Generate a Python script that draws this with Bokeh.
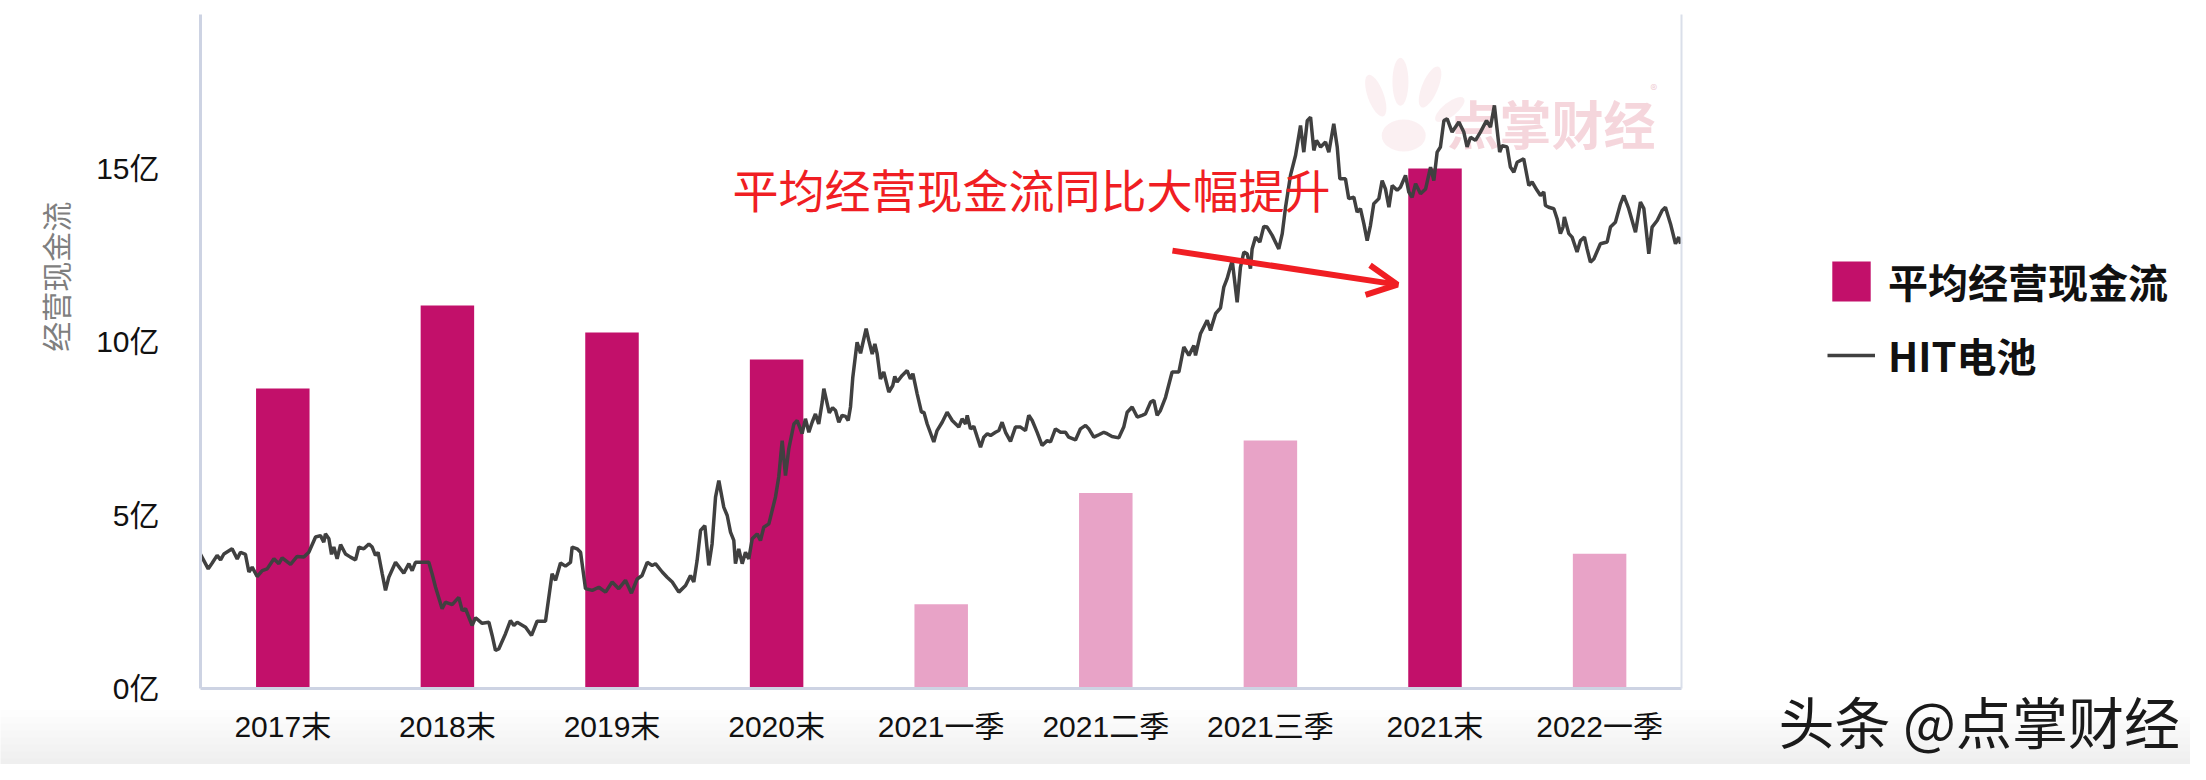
import math
from bokeh.plotting import figure
from bokeh.models import (ColumnDataSource, FixedTicker, Legend, LegendItem, Label,
                          Arrow, OpenHead, LinearAxis, BoxAnnotation)
from bokeh.embed import file_html
from bokeh.resources import INLINE

# ---------------- data ----------------
categories = ["2017末", "2018末", "2019末", "2020末", "2021一季", "2021二季", "2021三季", "2021末", "2022一季"]
cash_flow = [8.65, 11.05, 10.27, 9.49, 2.43, 5.64, 7.15, 15.0, 3.89]   # 平均经营现金流 (亿)

y_ticks = [0, 5, 10, 15]
y_tick_labels = ["0亿", "5亿", "10亿", "15亿"]

# HIT电池 index line, position along the category axis and level on the 亿 scale
hit_x = [0.000, 0.047, 0.071, 0.101, 0.122, 0.142, 0.192, 0.223, 0.243, 0.273, 0.294, 0.314, 0.344, 0.375, 0.405,
         0.446, 0.476, 0.496, 0.547, 0.587, 0.628, 0.658, 0.699, 0.729, 0.749, 0.759, 0.780, 0.796, 0.810, 0.830,
         0.851, 0.881, 0.911, 0.942, 0.962, 0.992, 1.023, 1.043, 1.063, 1.079, 1.104, 1.124, 1.144, 1.185, 1.215,
         1.235, 1.266, 1.286, 1.306, 1.347, 1.387, 1.407, 1.428, 1.468, 1.488, 1.529, 1.569, 1.590, 1.610, 1.650,
         1.671, 1.711, 1.752, 1.772, 1.792, 1.812, 1.853, 1.883, 1.904, 1.924, 1.975,
         2.011, 2.045, 2.096, 2.136, 2.157, 2.187, 2.217, 2.248, 2.258, 2.288, 2.309, 2.339, 2.380, 2.420, 2.461,
         2.501, 2.541, 2.582, 2.618, 2.653, 2.683, 2.714, 2.744, 2.764, 2.805, 2.835, 2.866, 2.906, 2.947, 2.977,
         2.997, 3.017, 3.038, 3.064, 3.088, 3.108, 3.129, 3.149, 3.179, 3.200, 3.220, 3.240, 3.250, 3.270, 3.291,
         3.311, 3.331, 3.352, 3.382, 3.402, 3.422, 3.453, 3.493, 3.513, 3.534, 3.554, 3.574, 3.605, 3.625, 3.655,
         3.675, 3.696, 3.716, 3.736, 3.756, 3.777, 3.787, 3.820, 3.840,
         3.858, 3.878, 3.898, 3.919, 3.935, 3.949, 3.963, 3.989, 4.010, 4.044, 4.060, 4.081, 4.097, 4.111, 4.131,
         4.151, 4.182, 4.206, 4.218, 4.232, 4.263, 4.293, 4.313, 4.328, 4.354, 4.380, 4.395, 4.415, 4.455, 4.475,
         4.506, 4.536, 4.567, 4.607, 4.627, 4.648, 4.658, 4.678, 4.698, 4.719, 4.739, 4.759, 4.780, 4.800, 4.830,
         4.850, 4.870, 4.891, 4.921, 4.951, 4.982, 5.012, 5.032, 5.053, 5.083, 5.113, 5.144, 5.164, 5.194, 5.225,
         5.255, 5.275, 5.316, 5.346, 5.377, 5.397, 5.427, 5.458, 5.488, 5.508, 5.538, 5.579, 5.609, 5.630, 5.660,
         5.691, 5.721, 5.741, 5.772, 5.792, 5.812, 5.832, 5.863,
         5.903, 5.944, 5.974, 6.005, 6.035, 6.045, 6.075, 6.116, 6.136, 6.167, 6.197, 6.217, 6.237, 6.268, 6.298,
         6.318, 6.339, 6.359, 6.379, 6.389, 6.410, 6.436, 6.460, 6.480, 6.511, 6.551, 6.572, 6.592, 6.622, 6.653,
         6.683, 6.703, 6.724, 6.744, 6.764, 6.780, 6.805, 6.835, 6.855, 6.885, 6.906, 6.922, 6.956, 6.976, 7.007,
         7.027, 7.047, 7.068, 7.088, 7.108, 7.128, 7.159, 7.179, 7.199, 7.220, 7.240, 7.270, 7.290, 7.321, 7.341,
         7.361, 7.382, 7.412, 7.443, 7.473,
         7.493, 7.513, 7.533, 7.554, 7.574, 7.604, 7.645, 7.675, 7.695, 7.716, 7.746, 7.776, 7.813, 7.837, 7.861,
         7.877, 7.893, 7.908, 7.938, 7.958, 7.979, 7.999, 8.039, 8.070, 8.090, 8.120, 8.141, 8.161, 8.171, 8.191,
         8.222, 8.242, 8.262, 8.278, 8.286, 8.313, 8.333, 8.363, 8.384, 8.408, 8.424, 8.444, 8.465, 8.505, 8.546,
         8.566, 8.596, 8.627, 8.647, 8.677, 8.718, 8.748, 8.769, 8.799, 8.819, 8.850, 8.880, 8.900, 8.931, 8.961,
         8.981, 8.992]
hit_v = [3.87, 3.45, 3.62, 3.84, 3.71, 3.88, 4.03, 3.74, 3.93, 3.87, 3.36, 3.50, 3.23, 3.40, 3.45,
         3.74, 3.60, 3.77, 3.58, 3.81, 3.79, 3.93, 4.37, 4.41, 4.22, 4.46, 4.32, 3.87, 4.08, 3.74,
         4.15, 3.88, 3.79, 3.71, 4.08, 4.03, 4.17, 4.08, 3.84, 3.93, 3.31, 2.83, 3.21, 3.64, 3.45,
         3.33, 3.60, 3.40, 3.64, 3.64, 3.64, 3.31, 2.92, 2.30, 2.49, 2.42, 2.63, 2.25, 2.30, 1.82,
         2.04, 1.88, 1.91, 1.53, 1.10, 1.14, 1.58, 1.96, 1.82, 1.91, 1.77,
         1.53, 1.94, 1.94, 3.31, 3.12, 3.62, 3.53, 3.64, 4.08, 4.03, 3.93, 2.88, 2.83, 2.92, 2.78,
         3.07, 2.88, 3.12, 2.75, 3.16, 3.26, 3.64, 3.55, 3.60, 3.36, 3.21, 3.07, 2.78, 2.97, 3.26,
         3.07, 3.69, 4.56, 4.70, 3.55, 4.17, 5.52, 6.00, 5.23, 4.99, 4.51, 4.27, 3.60, 4.03, 3.60,
         3.93, 3.74, 4.32, 4.46, 4.27, 4.65, 4.75, 5.52, 6.10, 7.15, 6.14, 6.91, 7.63, 7.73, 7.35,
         7.78, 7.39, 7.68, 7.92, 7.63, 8.26, 8.65, 7.95, 8.10,
         8.02, 7.68, 7.88, 7.85, 7.73, 8.12, 8.98, 9.99, 9.67, 10.38, 10.04, 9.65, 9.94, 9.65, 8.93,
         9.13, 8.55, 8.74, 9.00, 8.84, 9.03, 9.17, 8.93, 9.08, 8.50, 7.97, 7.97, 7.63, 7.11, 7.44,
         7.68, 7.97, 7.73, 7.54, 7.78, 7.63, 7.88, 7.49, 7.56, 7.25, 6.96, 7.25, 7.35, 7.30, 7.39,
         7.44, 7.68, 7.39, 7.13, 7.54, 7.54, 7.44, 7.88, 7.73, 7.39, 7.01, 7.15, 7.11, 7.49, 7.39,
         7.39, 7.25, 7.17, 7.49, 7.59, 7.49, 7.25, 7.32, 7.39, 7.35, 7.27, 7.23, 7.54, 7.97, 8.12,
         7.83, 7.88, 7.92, 8.26, 8.31, 7.88, 8.02, 8.40,
         9.13, 9.13, 9.85, 9.61, 9.89, 9.61, 10.23, 10.62, 10.33, 10.81, 10.98, 11.58, 11.82, 12.35, 11.14,
         12.15, 12.59, 12.54, 12.11, 12.68, 13.02, 12.88, 13.33, 13.31, 13.07, 12.68, 13.12, 13.88, 14.80, 15.38,
         16.24, 15.47, 16.38, 16.48, 15.52, 15.81, 15.62, 15.76, 15.47, 16.29, 15.62, 14.70, 14.70, 14.13, 14.17,
         13.74, 13.84, 13.40, 12.92, 13.36, 13.98, 14.13, 14.65, 14.41, 13.88, 14.51, 14.37, 14.46, 14.80, 14.32,
         14.17, 14.56, 14.27, 14.41, 15.04,
         14.65, 15.47, 15.62, 16.38, 16.43, 16.05, 16.34, 16.05, 15.62, 15.90, 15.81, 16.05, 16.38, 16.19, 16.82,
         16.14, 15.47, 15.66, 15.62, 15.04, 14.89, 15.18, 15.28, 14.51, 14.61, 14.37, 14.22, 14.32, 13.93, 13.88,
         13.84, 13.55, 13.12, 13.31, 13.60, 13.12, 13.02, 12.59, 12.92, 13.02, 12.68, 12.30, 12.39, 12.83, 12.88,
         13.31, 13.45, 13.98, 14.22, 13.84, 13.16, 14.03, 13.84, 12.54, 13.31, 13.50, 13.79, 13.88, 13.40, 12.83,
         13.02, 12.83]

annotation_text = "平均经营现金流同比大幅提升"

# ---------------- styles ----------------
DARK = "#C2106A"
LIGHT = "#E8A3C7"
LINE = "#404040"
RED = "#F01E23"
AXIS = "#CDD3E3"
CJK = "Noto Sans CJK SC"
TICKF = "Liberation Sans, Noto Sans CJK SC"

n = len(categories)
bar_colors = [DARK if c.endswith("末") else LIGHT for c in categories]
bar_x = [i + 0.5 for i in range(n)]
y_top = 19.44

# the frame covers the whole canvas; axes are pinned at 0 with fixed_location
p = figure(width=2190, height=764, output_backend="svg", toolbar_location=None,
           x_range=(-1.2151, 12.090), y_range=(-2.192, 19.845),
           min_border_left=0, min_border_right=0, min_border_top=0, min_border_bottom=0)
p.outline_line_color = None
p.xgrid.visible = False
p.ygrid.visible = False
p.background_fill_color = "white"
p.border_fill_color = "white"

# soft grey fade at the very bottom of the picture
for k in range(8):
    p.add_layout(BoxAnnotation(top=-0.62 - 0.2 * k, fill_color="#C8C8C8", fill_alpha=0.035,
                               line_color=None, level="underlay"))

# faint watermark logo (hand print) behind the data
logo = ColumnDataSource(dict(x=[7.31, 7.14, 7.29, 7.47, 7.59], y=[15.95, 17.1, 17.5, 17.35, 16.7],
                             w=[44, 16, 16, 16, 14], h=[32, 44, 48, 44, 36], a=[0.0, 0.35, 0.0, -0.4, -0.9]))
p.ellipse(x="x", y="y", width="w", height="h", angle="a", width_units="screen", height_units="screen",
          fill_color="#F2CDD3", fill_alpha=0.3, line_color=None, source=logo)

bar_src = ColumnDataSource(dict(x=bar_x, top=cash_flow, color=bar_colors, cat=categories))
bars = p.vbar(x="x", top="top", width=0.325, bottom=0, fill_color="color", line_color=None, source=bar_src)

line_src = ColumnDataSource(dict(x=hit_x, y=hit_v))
ln = p.line(x="x", y="y", line_color=LINE, line_width=3.5, source=line_src)

# axes
xa = p.xaxis[0]
xa.fixed_location = 0
xa.bounds = (0, n)
xa.ticker = FixedTicker(ticks=bar_x)
xa.major_label_overrides = {x: c for x, c in zip(bar_x, categories)}
xa.major_tick_line_color = None
xa.minor_tick_line_color = None
xa.axis_line_color = AXIS
xa.axis_line_width = 3
xa.major_label_text_font = TICKF
xa.major_label_text_font_size = "30px"
xa.major_label_text_color = "#111111"
xa.major_label_standoff = 15

ya = p.yaxis[0]
ya.fixed_location = 0
ya.bounds = (0, y_top)
ya.ticker = FixedTicker(ticks=y_ticks)
ya.major_label_overrides = {t: l for t, l in zip(y_ticks, y_tick_labels)}
ya.major_tick_line_color = None
ya.minor_tick_line_color = None
ya.axis_line_color = AXIS
ya.axis_line_width = 3
ya.major_label_text_font = TICKF
ya.major_label_text_font_size = "30px"
ya.major_label_text_color = "#111111"
ya.major_label_standoff = 35

ra = LinearAxis(fixed_location=n, bounds=(0, y_top), ticker=FixedTicker(ticks=[]),
                axis_line_color="#DADFEA", axis_line_width=2,
                major_tick_line_color=None, minor_tick_line_color=None)
p.add_layout(ra, "right")

# y axis title
p.add_layout(Label(x=-0.881, y=11.88, text="经营现金流", angle=math.pi / 2, text_align="center",
                   text_baseline="middle", text_font=CJK, text_font_size="30px", text_color="#7F7F7F"))

# watermark text
p.add_layout(Label(x=7.576, y=16.33, text="点掌财经", text_align="left", text_baseline="middle",
                   text_font=CJK, text_font_size="52px", text_font_style="bold",
                   text_color="#F2CCD3", text_alpha=0.8, level="underlay"))
p.add_layout(Label(x=8.81, y=17.3, text="®", text_align="left", text_baseline="middle",
                   text_font=CJK, text_font_size="14px", text_color="#EFCDD4", level="underlay"))

# red annotation + arrow
p.add_layout(Label(x=3.232, y=14.44, text=annotation_text, text_align="left", text_baseline="middle",
                   text_font=CJK, text_font_size="46px", text_color=RED))
p.add_layout(Arrow(x_start=5.905, y_start=12.63, x_end=7.272, y_end=11.65, line_color=RED, line_width=6,
                   end=OpenHead(size=30, line_color=RED, line_width=6)))

# source caption
p.add_layout(Label(x=9.587, y=-0.88, text="头条 @点掌财经", text_align="left", text_baseline="middle",
                   text_font=CJK, text_font_size="56px", text_color="#1A1A1A"))

# legend
legend = Legend(items=[LegendItem(label="平均经营现金流", renderers=[bars], index=0),
                       LegendItem(label="HIT电池", renderers=[ln])],
                location=(1827, 380), orientation="vertical",
                glyph_width=48, glyph_height=50, label_height=50, spacing=16, label_standoff=13,
                padding=0, margin=0, border_line_color=None, background_fill_alpha=0,
                label_text_font=CJK, label_text_font_size="40px", label_text_font_style="bold",
                label_text_color="#111111")
p.add_layout(legend, "center")

open("out.html", "w").write(file_html(p, INLINE))
